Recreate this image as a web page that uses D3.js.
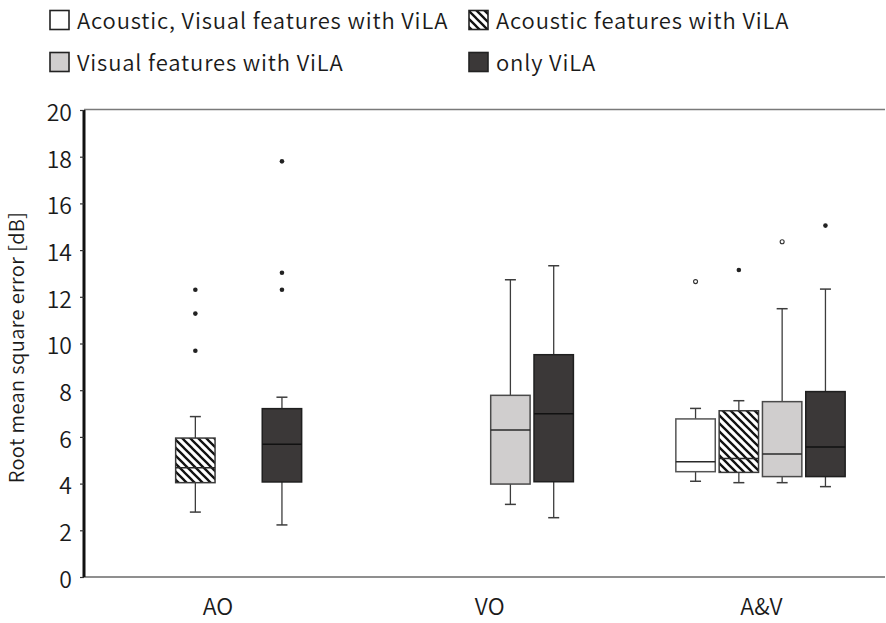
<!DOCTYPE html>
<html lang="en">
<head>
<meta charset="utf-8">
<script src="https://d3js.org/d3.v7.min.js"></script>
<style>
  body { margin: 0; background: #fff; }
  text { font-family: "Noto Sans CJK JP", "Noto Sans", sans-serif; font-weight: 350; fill: #1a1a1a; }
</style>
</head>
<body>
<div id="chart"></div>
<script>
// categories and series
var categories = ["AO", "VO", "A&V"];
var seriesNames = ["Acoustic, Visual features with ViLA", "Acoustic features with ViLA",
                   "Visual features with ViLA", "only ViLA"];
var yTicks = [0, 2, 4, 6, 8, 10, 12, 14, 16, 18, 20];

// box stats per series, one entry per category: [whiskerLow, q1, median, q3, whiskerHigh]
var avStats  = [null, null, [4.10, 4.51, 4.94, 6.77, 7.22]];
var aStats   = [[2.78, 4.04, 4.68, 5.95, 6.87], null, [4.04, 4.48, 5.08, 7.12, 7.55]];
var vStats   = [null, [3.11, 3.98, 6.30, 7.78, 12.73], [4.04, 4.30, 5.27, 7.51, 11.49]];
var onlyStats = [[2.23, 4.07, 5.68, 7.21, 7.70], [2.54, 4.08, 6.99, 9.52, 13.33], [3.87, 4.30, 5.57, 7.94, 12.33]];

// outliers: filled points and open circles, per category
var avFilled = [[], [], []],           avOpen = [[], [], [12.65]];
var aFilled = [[12.30, 11.28, 9.69], [], [13.15]], aOpen = [[], [], []];
var vFilled = [[], [], []],            vOpen = [[], [], [14.36]];
var onlyFilled = [[17.80, 13.03, 12.30], [], [15.05]], onlyOpen = [[], [], []];

var statsBySeries = [avStats, aStats, vStats, onlyStats];
var filledBySeries = [avFilled, aFilled, vFilled, onlyFilled];
var openBySeries = [avOpen, aOpen, vOpen, onlyOpen];

var W = 886, H = 623;
var plot = {left: 84, right: 885, top: 110, bottom: 577};

var fills = ["#ffffff", "url(#hatch)", "#d0cece", "#3b3838"];
var strokes = ["#555555", "#3a3a3a", "#4a4a4a", "#1f1f1f"];

var svg = d3.select("#chart").append("svg")
    .attr("width", W).attr("height", H);

var defs = svg.append("defs");
var pat = defs.append("pattern")
    .attr("id", "hatch")
    .attr("patternUnits", "userSpaceOnUse")
    .attr("width", 8).attr("height", 8);
pat.append("rect").attr("width", 8).attr("height", 8).attr("fill", "#fff");
pat.append("path")
    .attr("d", "M0,0 L8,8 M-4,4 L4,12 M4,-4 L12,4")
    .attr("stroke", "#111").attr("stroke-width", 2.3);

var y = d3.scaleLinear().domain([0, 20]).range([plot.bottom, plot.top]);
var xGroup = d3.scalePoint().domain(categories).range([217, 760.5]);
var xSub = d3.scaleBand().domain(seriesNames).range([-86.6, 86.6])
    .paddingInner(0.09).paddingOuter(0.045);

// frame: gray top and bottom lines, thick black left axis
svg.append("line").attr("x1", plot.left).attr("x2", plot.right)
    .attr("y1", plot.top - 0.5).attr("y2", plot.top - 0.5)
    .attr("stroke", "#7a7a7a").attr("stroke-width", 1.5);
svg.append("line").attr("x1", plot.left).attr("x2", plot.right)
    .attr("y1", plot.bottom).attr("y2", plot.bottom)
    .attr("stroke", "#6a6a6a").attr("stroke-width", 1.5);

var yAxis = svg.append("g")
    .attr("transform", "translate(" + plot.left + ",0)")
    .call(d3.axisLeft(y).tickValues(yTicks).tickSize(4).tickPadding(8));
yAxis.select(".domain").attr("stroke", "#111").attr("stroke-width", 3)
    .attr("d", "M0," + plot.top + "V" + plot.bottom);
yAxis.selectAll(".tick line").attr("stroke", "#333").attr("stroke-width", 1.2);
yAxis.selectAll(".tick text")
    .style("font-family", '"Noto Sans CJK JP", sans-serif')
    .style("font-weight", 350)
    .style("font-size", "23px").attr("dy", "0.45em").attr("fill", "#1a1a1a");

svg.append("text")
    .attr("transform", "translate(24," + ((plot.top + plot.bottom) / 2 + 4) + ") rotate(-90)")
    .attr("text-anchor", "middle")
    .style("font-size", "20px")
    .style("letter-spacing", "0.4px")
    .text("Root mean square error [dB]");

svg.selectAll(".cat").data(categories).enter().append("text")
    .attr("class", "cat")
    .attr("x", function(d) { return xGroup(d) + 1; })
    .attr("y", 615)
    .attr("text-anchor", "middle")
    .style("font-size", "23px")
    .text(function(d) { return d; });

// boxes
var bw = xSub.bandwidth();
seriesNames.forEach(function(s, si) {
  categories.forEach(function(c, ci) {
    var st = statsBySeries[si][ci];
    if (!st) return;
    var cx = xGroup(c) + xSub(s) + bw / 2;
    var g = svg.append("g");
    var capW = 11;
    // whiskers
    g.append("line").attr("x1", cx).attr("x2", cx)
        .attr("y1", y(st[0])).attr("y2", y(st[1]))
        .attr("stroke", "#3d3d3d").attr("stroke-width", 1.3);
    g.append("line").attr("x1", cx).attr("x2", cx)
        .attr("y1", y(st[3])).attr("y2", y(st[4]))
        .attr("stroke", "#3d3d3d").attr("stroke-width", 1.3);
    [st[0], st[4]].forEach(function(v) {
      g.append("line").attr("x1", cx - capW / 2).attr("x2", cx + capW / 2)
          .attr("y1", y(v)).attr("y2", y(v))
          .attr("stroke", "#3d3d3d").attr("stroke-width", 1.5);
    });
    // box
    g.append("rect")
        .attr("x", cx - bw / 2).attr("width", bw)
        .attr("y", y(st[3])).attr("height", y(st[1]) - y(st[3]))
        .attr("fill", fills[si]).attr("stroke", strokes[si]).attr("stroke-width", 1.5);
    g.append("line").attr("x1", cx - bw / 2).attr("x2", cx + bw / 2)
        .attr("y1", y(st[2])).attr("y2", y(st[2]))
        .attr("stroke", si === 3 ? "#111" : "#2a2a2a").attr("stroke-width", 1.5);
    // outliers
    filledBySeries[si][ci].forEach(function(v) {
      g.append("circle").attr("cx", cx).attr("cy", y(v)).attr("r", 2.3)
          .attr("fill", "#222");
    });
    openBySeries[si][ci].forEach(function(v) {
      g.append("circle").attr("cx", cx).attr("cy", y(v)).attr("r", 2)
          .attr("fill", "#fff").attr("stroke", "#333").attr("stroke-width", 1.1);
    });
  });
});

// legend
var legendPos = [[49, 10], [468, 10], [49, 52], [468, 52]];
seriesNames.forEach(function(s, i) {
  var lg = svg.append("g").attr("transform", "translate(" + legendPos[i][0] + "," + legendPos[i][1] + ")");
  lg.append("rect").attr("x", 1).attr("y", 0.5).attr("width", 19).attr("height", 19)
      .attr("fill", fills[i]).attr("stroke", "#222").attr("stroke-width", 1.6);
  lg.append("text").attr("x", 28).attr("y", 19)
      .style("font-size", "22px")
      .style("letter-spacing", "0.85px")
      .text(s);
});
</script>
</body>
</html>
